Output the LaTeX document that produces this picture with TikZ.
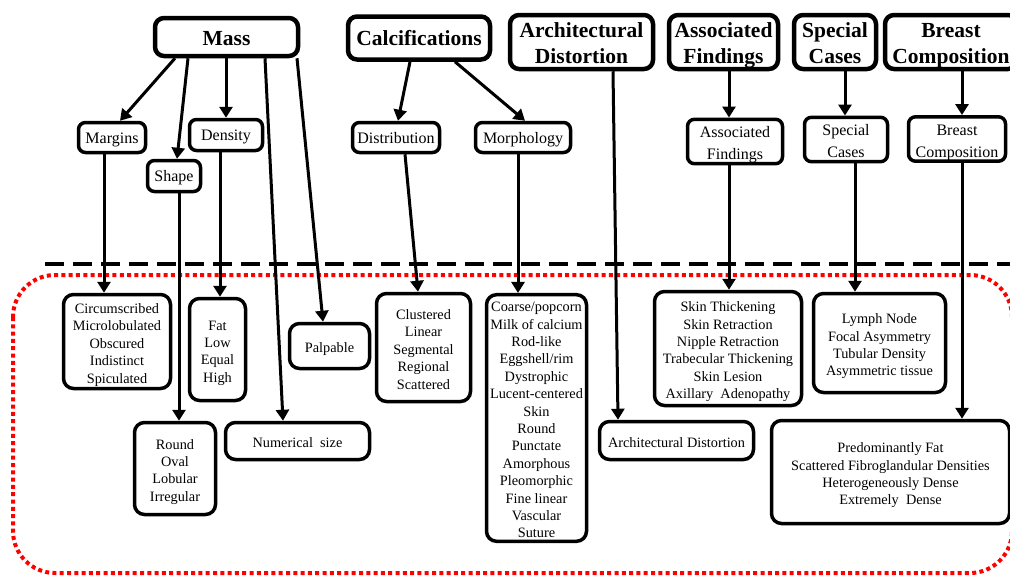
\documentclass[tikz,border=0pt]{standalone}
\usepackage{fontspec}
\setmainfont{Liberation Serif}
\usetikzlibrary{arrows.meta}
\newcommand{\toplines}[1]{\rule{0pt}{21pt}#1\rule[-5pt]{0pt}{5pt}}
\newcommand{\topone}[1]{\rule{0pt}{18.2pt}#1}
\newcommand{\midone}[1]{\rule{0pt}{14.5pt}#1\rule[-3.5pt]{0pt}{3.5pt}}
\newcommand{\midtwo}[1]{\rule{0pt}{18.4pt}#1\rule[-4pt]{0pt}{4pt}}
\newcommand{\boxlines}[1]{\rule{0pt}{16.9pt}#1\rule[-3.5pt]{0pt}{3.5pt}}
\begin{document}
\begin{tikzpicture}[x=1pt,y=-1pt,
  topbox/.style={draw, line width=4.5pt, rounded corners=9pt, fill=white, inner sep=0pt, align=center, font=\fontsize{21.5}{26}\selectfont\bfseries},
  midbox/.style={draw, line width=3.5pt, rounded corners=7pt, fill=white, inner sep=0pt, align=center, font=\fontsize{16}{22}\selectfont},
  botbox/.style={draw, line width=3.5pt, rounded corners=10pt, fill=white, inner sep=0pt, align=center, font=\fontsize{14.3}{17.4}\selectfont},
  arr/.style={line width=3pt, -{Triangle[width=13pt,length=11pt]}},
  sep/.style={line width=4pt, dash pattern=on 19pt off 9pt},
  region/.style={red, line width=4pt, dash pattern=on 4pt off 3.3pt, rounded corners=42pt},
]
\useasboundingbox (0,0) rectangle (1010,576);
% background separators
\draw[sep] (45,264) -- (1015,264);
\draw[region] (13,275) rectangle (1012,573);

% top level
\node[topbox, minimum width=143pt, minimum height=38pt] (mass) at (226.5,37) {\topone{Mass}};
\node[topbox, minimum width=142pt, minimum height=43pt] (calc) at (419,38) {Calcifications};
\node[topbox, minimum width=143pt, minimum height=54pt] (arch) at (581.5,42) {\toplines{Architectural\\Distortion}};
\node[topbox, minimum width=109pt, minimum height=54pt] (assoc) at (723.5,42) {\toplines{Associated\\Findings}};
\node[topbox, minimum width=82pt, minimum height=54pt] (special) at (835,42) {\toplines{Special\\Cases}};
\node[topbox, minimum width=132pt, minimum height=54pt] (breast) at (951,42) {\toplines{Breast\\Composition}};

% second level
\node[midbox, minimum width=67pt, minimum height=30pt] (margins) at (112,137.5) {\midone{Margins}};
\node[midbox, minimum width=53pt, minimum height=31pt] (shape) at (174,176) {\midone{Shape}};
\node[midbox, minimum width=73pt, minimum height=31pt] (density) at (226,135) {\midone{Density}};
\node[midbox, minimum width=87pt, minimum height=30pt] (distrib) at (396,137.5) {\midone{Distribution}};
\node[midbox, minimum width=95pt, minimum height=30pt] (morph) at (523,137.5) {\midone{Morphology}};
\node[midbox, minimum width=95pt, minimum height=38pt] (assoc2) at (735,141.5) {\midtwo{Associated\\Findings}};
\node[midbox, minimum width=83pt, minimum height=42pt] (special2) at (846,139.5) {\midtwo{Special\\Cases}};
\node[midbox, minimum width=97pt, minimum height=41pt] (breast2) at (957,139) {\midtwo{Breast\\Composition}};

% bottom level
\node[botbox, minimum width=107pt, minimum height=94pt] (circ) at (117,341.5) {\boxlines{Circumscribed\\Microlobulated\\Obscured\\Indistinct\\Spiculated}};
\node[botbox, minimum width=56pt, minimum height=102pt] (fat) at (217.5,349.5) {\boxlines{Fat\\Low\\Equal\\High}};
\node[botbox, minimum width=80pt, minimum height=45pt] (palp) at (329.5,346) {\boxlines{Palpable}};
\node[botbox, minimum width=81pt, minimum height=92pt] (round) at (175,468.5) {\boxlines{Round\\Oval\\Lobular\\Irregular}};
\node[botbox, minimum width=144pt, minimum height=37pt] (numsize) at (297.5,441) {\boxlines{Numerical\ \ size}};
\node[botbox, minimum width=94pt, minimum height=108pt] (clust) at (423.5,347.5) {\boxlines{Clustered\\Linear\\Segmental\\Regional\\Scattered}};
\node[botbox, minimum width=100pt, minimum height=246pt] (coarse) at (536.5,418) {\boxlines{Coarse/popcorn\\Milk of calcium\\Rod-like\\Eggshell/rim\\Dystrophic\\Lucent-centered\\Skin\\Round\\Punctate\\Amorphous\\Pleomorphic\\Fine linear\\Vascular\\Suture}};
\node[botbox, minimum width=154pt, minimum height=38pt] (archbox) at (676.5,440.5) {\boxlines{Architectural Distortion}};
\node[botbox, minimum width=147pt, minimum height=114pt] (skin) at (728,348.5) {\boxlines{Skin Thickening\\Skin Retraction\\Nipple Retraction\\Trabecular Thickening\\Skin Lesion\\Axillary\ \ Adenopathy}};
\node[botbox, minimum width=132pt, minimum height=99pt] (lymph) at (879.5,343) {\boxlines{Lymph Node\\Focal Asymmetry\\Tubular Density\\Asymmetric tissue}};
\node[botbox, minimum width=238pt, minimum height=103pt] (predom) at (890.5,472) {\boxlines{Predominantly Fat\\Scattered Fibroglandular Densities\\Heterogeneously Dense\\Extremely\ \ Dense}};

% connectors
\draw[arr] (175,0 |- mass.south) -- (120,0 |- margins.north);
\draw[arr] (188,0 |- mass.south) -- (177,0 |- shape.north);
\draw[arr] (226,0 |- mass.south) -- (226,0 |- density.north);
\draw[arr] (265,0 |- mass.south) -- (283,0 |- numsize.north);
\draw[arr] (297,0 |- mass.south) -- (323,0 |- palp.north);
\draw[arr] (104,0 |- margins.south) -- (104,0 |- circ.north);
\draw[arr] (179,0 |- shape.south) -- (179,0 |- round.north);
\draw[arr] (220,0 |- density.south) -- (220,0 |- fat.north);
\draw[arr] (410,0 |- calc.south) -- (398,0 |- distrib.north);
\draw[arr] (455,0 |- calc.south) -- (525,0 |- morph.north);
\draw[arr] (405,0 |- distrib.south) -- (418,0 |- clust.north);
\draw[arr] (518,0 |- morph.south) -- (518,0 |- coarse.north);
\draw[arr] (613,0 |- arch.south) -- (618,0 |- archbox.north);
\draw[arr] (729,0 |- assoc.south) -- (729,0 |- assoc2.north);
\draw[arr] (729,0 |- assoc2.south) -- (729,0 |- skin.north);
\draw[arr] (845,0 |- special.south) -- (845,0 |- special2.north);
\draw[arr] (855,0 |- special2.south) -- (855,0 |- lymph.north);
\draw[arr] (962,0 |- breast.south) -- (962,0 |- breast2.north);
\draw[arr] (962,0 |- breast2.south) -- (962,0 |- predom.north);
\end{tikzpicture}
\end{document}
